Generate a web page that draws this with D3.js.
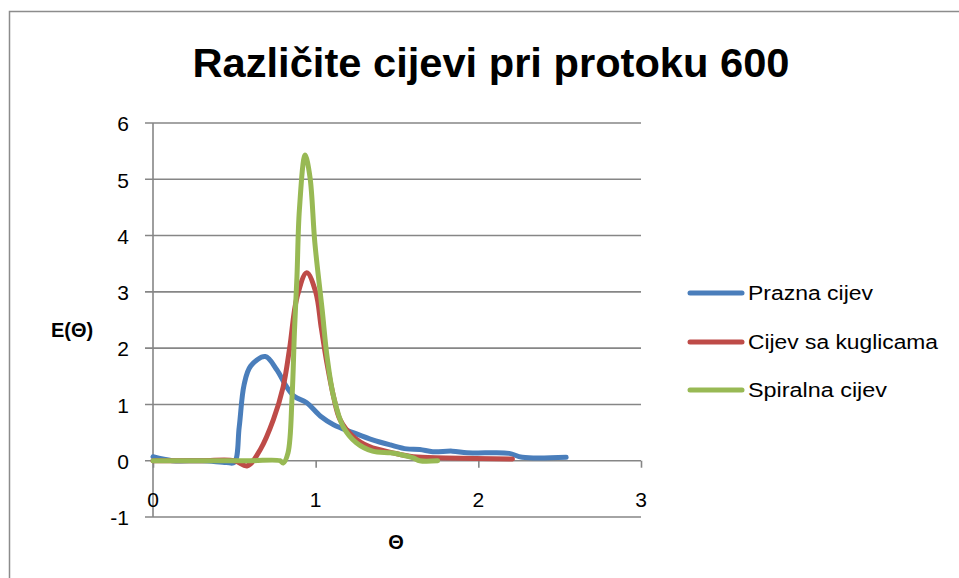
<!DOCTYPE html>
<html>
<head>
<meta charset="utf-8">
<script src="https://cdn.jsdelivr.net/npm/d3@7"></script>
<style>
  html, body { margin: 0; padding: 0; background: #fff; }
  svg { display: block; }
  text { font-family: "Liberation Sans", Arial, sans-serif; fill: #000; }
</style>
</head>
<body>
<svg id="chart" width="959" height="578"></svg>
<script>
// ---- Data ----
const title = "Različite cijevi pri protoku 600";
const xLabel = "Θ";
const yLabel = "E(Θ)";
const xTicks = [0, 1, 2, 3];
const yTicks = [-1, 0, 1, 2, 3, 4, 5, 6];
const seriesNames = ["Prazna cijev", "Cijev sa kuglicama", "Spiralna cijev"];
const seriesColors = ["#4A7EBB", "#BE4B48", "#98B954"];

const praznaTheta = [0, 0.12, 0.3, 0.45, 0.5, 0.53, 0.56, 0.6, 0.69, 0.76, 0.82, 0.87, 0.945, 1.03, 1.11, 1.23, 1.35, 1.46, 1.56, 1.64, 1.72, 1.84, 1.93, 2.05, 2.19, 2.27, 2.54];
const praznaE     = [0.07, 0.0, 0.0, -0.03, -0.03, 0.6, 1.35, 1.68, 1.85, 1.62, 1.32, 1.14, 1.03, 0.79, 0.64, 0.5, 0.37, 0.28, 0.21, 0.2, 0.16, 0.17, 0.14, 0.14, 0.13, 0.06, 0.06];

const kuglicamaTheta = [0, 0.3, 0.5, 0.58, 0.66, 0.74, 0.8, 0.84, 0.885, 0.945, 1.0, 1.035, 1.07, 1.11, 1.15, 1.23, 1.33, 1.475, 1.6, 1.8, 2.21];
const kuglicamaE     = [0.0, 0.0, 0.0, -0.09, 0.2, 0.73, 1.31, 2.0, 2.9, 3.34, 3.0, 2.35, 1.72, 1.14, 0.73, 0.43, 0.25, 0.14, 0.07, 0.05, 0.03];

const spiralnaTheta = [0, 0.3, 0.6, 0.78, 0.8, 0.83, 0.855, 0.87, 0.885, 0.9, 0.935, 0.965, 0.995, 1.04, 1.07, 1.11, 1.17, 1.25, 1.35, 1.46, 1.52, 1.6, 1.64, 1.75];
const spiralnaE     = [0.0, 0.0, 0.0, 0.0, -0.04, 0.14, 1.14, 2.33, 3.27, 4.46, 5.43, 5.04, 3.87, 2.68, 1.85, 1.14, 0.6, 0.32, 0.17, 0.14, 0.11, 0.05, 0.0, 0.0];

const seriesTheta = [praznaTheta, kuglicamaTheta, spiralnaTheta];
const seriesE = [praznaE, kuglicamaE, spiralnaE];

// ---- Layout ----
const svg = d3.select("#chart");
const plot = { left: 153, right: 641, top: 123, bottom: 517 };

// chart border
svg.append("rect")
  .attr("x", 9.5).attr("y", 11.5)
  .attr("width", 960).attr("height", 580)
  .attr("fill", "none").attr("stroke", "#8c8c8c").attr("stroke-width", 1.5);

const x = d3.scaleLinear().domain([0, 3]).range([plot.left, plot.right]);
const y = d3.scaleLinear().domain([-1, 6]).range([plot.bottom, plot.top]);

const gridColor = "#868686";

// horizontal gridlines (with left tick stubs)
svg.append("g").selectAll("line")
  .data(yTicks)
  .join("line")
  .attr("x1", plot.left - 8).attr("x2", plot.right)
  .attr("y1", d => y(d)).attr("y2", d => y(d))
  .attr("stroke", gridColor).attr("stroke-width", 1.6);

// y axis line
svg.append("line")
  .attr("x1", x(0)).attr("x2", x(0))
  .attr("y1", y(6)).attr("y2", y(-1))
  .attr("stroke", gridColor).attr("stroke-width", 1.6);

// x axis (at y=0) with tick marks below
const xAxis = d3.axisBottom(x).tickValues(xTicks).tickSize(7).tickFormat("");
const gx = svg.append("g").attr("transform", `translate(0,${y(0)})`).call(xAxis);
gx.select(".domain").remove();
gx.selectAll(".tick line").attr("stroke", gridColor).attr("stroke-width", 1.6);

// y tick labels
svg.append("g").selectAll("text")
  .data(yTicks)
  .join("text")
  .attr("x", 129).attr("y", d => y(d) + 1)
  .attr("dy", "0.35em")
  .attr("text-anchor", "end")
  .attr("font-size", 21)
  .text(d => d);

// x tick labels
svg.append("g").selectAll("text")
  .data(xTicks)
  .join("text")
  .attr("x", d => x(d)).attr("y", 500)
  .attr("dy", "0.35em")
  .attr("text-anchor", "middle")
  .attr("font-size", 21)
  .text(d => d);

// axis titles
svg.append("text")
  .attr("x", 72).attr("y", 330).attr("dy", "0.35em")
  .attr("text-anchor", "middle")
  .attr("font-size", 20).attr("font-weight", "bold")
  .text(yLabel);
svg.append("text")
  .attr("x", 396).attr("y", 542).attr("dy", "0.35em")
  .attr("text-anchor", "middle")
  .attr("font-size", 20).attr("font-weight", "bold")
  .text(xLabel);

// title
svg.append("text")
  .attr("x", 491).attr("y", 77)
  .attr("text-anchor", "middle")
  .attr("font-size", 41).attr("font-weight", "bold")
  .attr("textLength", 597).attr("lengthAdjust", "spacingAndGlyphs")
  .text(title);

// series lines
const line = d3.line()
  .x(d => x(d[0]))
  .y(d => y(d[1]))
  .curve(d3.curveCatmullRom.alpha(0.5));

seriesNames.forEach((name, i) => {
  const pts = seriesTheta[i].map((t, j) => [t, seriesE[i][j]]);
  svg.append("path")
    .datum(pts)
    .attr("d", line)
    .attr("fill", "none")
    .attr("stroke", seriesColors[i])
    .attr("stroke-width", 5)
    .attr("stroke-linecap", "round")
    .attr("stroke-linejoin", "round");
});

// legend
const legendY = [293, 342, 390];
const legendTextEnd = [873, 938, 887];
seriesNames.forEach((name, i) => {
  svg.append("line")
    .attr("x1", 690).attr("x2", 742)
    .attr("y1", legendY[i]).attr("y2", legendY[i])
    .attr("stroke", seriesColors[i]).attr("stroke-width", 5)
    .attr("stroke-linecap", "round");
  svg.append("text")
    .attr("x", 748).attr("y", legendY[i]).attr("dy", "0.35em")
    .attr("font-size", 20)
    .attr("textLength", legendTextEnd[i] - 748).attr("lengthAdjust", "spacingAndGlyphs")
    .text(name);
});
</script>
</body>
</html>
